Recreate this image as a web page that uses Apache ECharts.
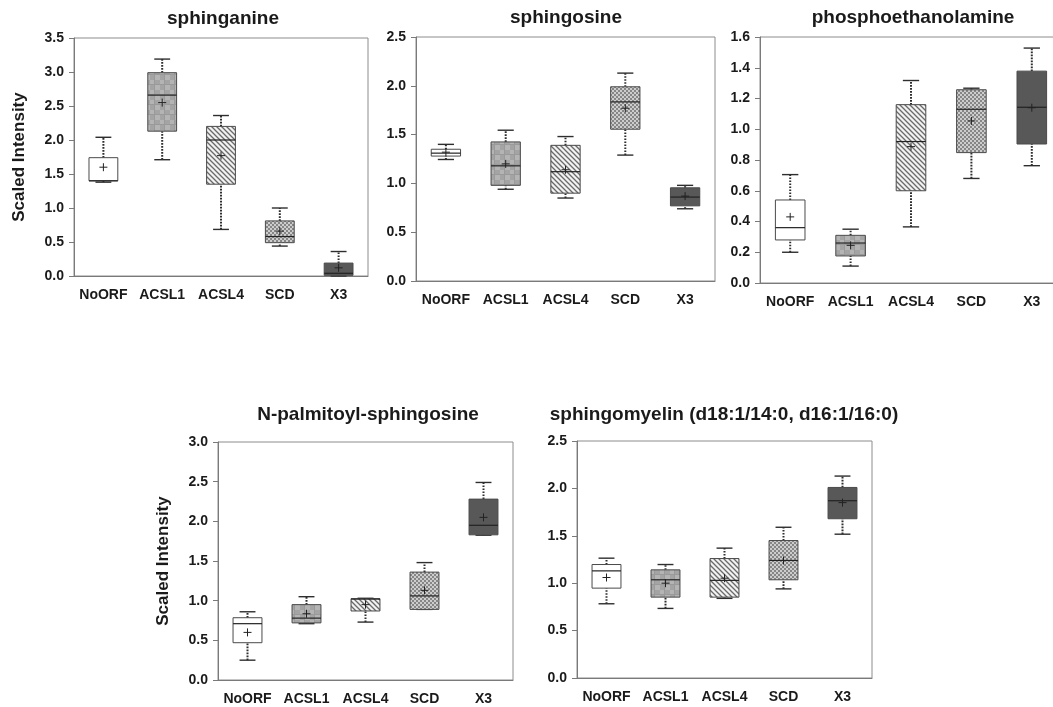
<!DOCTYPE html>
<html>
<head>
<meta charset="utf-8">
<script src="https://cdn.jsdelivr.net/npm/echarts@6/dist/echarts.min.js"></script>
<style>
html,body{margin:0;padding:0;background:#fff;overflow:hidden;width:1053px;height:707px;}
#chart{width:1070px;height:707px;}
</style>
</head>
<body>
<div id="chart"></div>
<script>
// ---- data ----
const categories = ['NoORF', 'ACSL1', 'ACSL4', 'SCD', 'X3'];
// each entry: [min, Q1, median, Q3, max]
const sphinganineBox = [[1.38, 1.40, 1.40, 1.74, 2.04], [1.71, 2.13, 2.66, 2.99, 3.19], [0.685, 1.35, 2.00, 2.20, 2.36], [0.44, 0.49, 0.58, 0.81, 1.00], [0.00, 0.01, 0.04, 0.19, 0.36]];
const sphinganineMean = [1.60, 2.55, 1.77, 0.66, 0.12];
const sphingosineBox = [[1.245, 1.28, 1.31, 1.35, 1.40], [0.94, 0.98, 1.18, 1.425, 1.545], [0.85, 0.90, 1.12, 1.39, 1.48], [1.29, 1.555, 1.835, 1.99, 2.13], [0.74, 0.77, 0.86, 0.955, 0.98]];
const sphingosineMean = [1.32, 1.20, 1.14, 1.77, 0.87];
const phosphoBox = [[0.20, 0.28, 0.36, 0.54, 0.705], [0.11, 0.176, 0.26, 0.31, 0.35], [0.365, 0.60, 0.92, 1.16, 1.317], [0.68, 0.848, 1.13, 1.257, 1.267], [0.763, 0.904, 1.143, 1.378, 1.528]];
const phosphoMean = [0.43, 0.245, 0.887, 1.054, 1.14];
const palmitoylBox = [[0.25, 0.47, 0.71, 0.785, 0.86], [0.71, 0.72, 0.78, 0.95, 1.05], [0.73, 0.87, 1.02, 1.025, 1.03], [0.89, 0.89, 1.06, 1.36, 1.48], [1.825, 1.83, 1.95, 2.28, 2.49]];
const palmitoylMean = [0.60, 0.835, 0.95, 1.13, 2.05];
const sphingomyelinBox = [[0.783, 0.948, 1.13, 1.197, 1.264], [0.734, 0.853, 1.036, 1.141, 1.197], [0.84, 0.853, 1.03, 1.26, 1.37], [0.94, 1.036, 1.24, 1.45, 1.59], [1.517, 1.68, 1.87, 2.01, 2.13]];
const sphingomyelinMean = [1.06, 1.00, 1.053, 1.24, 1.85];
const titles = ['sphinganine', 'sphingosine', 'phosphoethanolamine', 'N-palmitoyl-sphingosine', 'sphingomyelin (d18:1/14:0, d16:1/16:0)'];
const yMax = [3.5, 2.5, 1.6, 3.0, 2.5];
const yInterval = [0.5, 0.5, 0.2, 0.5, 0.5];
const yTitle = 'Scaled Intensity';

// ---- fill patterns ----
function makePattern(draw, w, h) {
  const c = document.createElement('canvas');
  c.width = w; c.height = h;
  draw(c.getContext('2d'), w, h);
  return { image: c, repeat: 'repeat' };
}
const fills = [
  '#ffffff',
  makePattern(function (g, w, h) {
    g.fillStyle = '#a4a4a4'; g.fillRect(0, 0, w, h);
    g.fillStyle = '#b4b4b4'; g.fillRect(0, 0, 5, 5); g.fillRect(5, 5, 5, 5);
    g.fillStyle = '#9a9a9a'; g.fillRect(0, 4, w, 1); g.fillRect(4, 0, 1, h);
  }, 10, 10),
  makePattern(function (g, w, h) {
    g.fillStyle = '#f2f2f2'; g.fillRect(0, 0, w, h);
    g.strokeStyle = '#6a6a6a'; g.lineWidth = 1.3;
    g.beginPath(); g.moveTo(-1, -1); g.lineTo(w + 1, h + 1);
    g.moveTo(-1, h - 1); g.lineTo(1, h + 1);
    g.moveTo(w - 1, -1); g.lineTo(w + 1, 1);
    g.stroke();
  }, 5, 5),
  makePattern(function (g, w, h) {
    g.fillStyle = '#cdcdcd'; g.fillRect(0, 0, w, h);
    g.fillStyle = '#868686'; g.fillRect(0, 0, 2, 2); g.fillRect(2, 2, 2, 2);
  }, 4, 4),
  '#585858'
];

const boxData = [sphinganineBox, sphingosineBox, phosphoBox, palmitoylBox, sphingomyelinBox];
const meanData = [sphinganineMean, sphingosineMean, phosphoMean, palmitoylMean, sphingomyelinMean];

const grids = [
  { left: 74, top: 38, width: 294, height: 238 },
  { left: 416, top: 37, width: 299, height: 244 },
  { left: 760, top: 37, width: 302, height: 246 },
  { left: 218, top: 442, width: 295, height: 238 },
  { left: 577, top: 441, width: 295, height: 237 }
];
const titlePos = [[223, 19], [566, 18], [913, 18], [368, 415], [724, 415]];
const showYName = [true, false, false, true, false];

const FONT = "'Liberation Sans', Arial, sans-serif";
const dark = '#2e2e2e';

function renderBox(params, api) {
  const i = api.value(0);
  const mn = api.value(1), q1 = api.value(2), md = api.value(3), q3 = api.value(4), mx = api.value(5), mean = api.value(6);
  const band = api.size([1, 0])[0];
  const bw = band * 0.49, cw = band * 0.27;
  const pMin = api.coord([i, mn]), pQ1 = api.coord([i, q1]), pMd = api.coord([i, md]);
  const pQ3 = api.coord([i, q3]), pMx = api.coord([i, mx]), pMean = api.coord([i, mean]);
  const cx = pMd[0];
  const dotted = { stroke: dark, lineWidth: 2, lineDash: [1.6, 1.4] };
  const solid = { stroke: dark, lineWidth: 1.4 };
  return {
    type: 'group',
    children: [
      { type: 'line', shape: { x1: cx, y1: pQ3[1], x2: cx, y2: pMx[1] }, style: dotted },
      { type: 'line', shape: { x1: cx, y1: pMin[1], x2: cx, y2: pQ1[1] }, style: dotted },
      { type: 'line', shape: { x1: cx - cw / 2, y1: pMx[1], x2: cx + cw / 2, y2: pMx[1] }, style: solid },
      { type: 'line', shape: { x1: cx - cw / 2, y1: pMin[1], x2: cx + cw / 2, y2: pMin[1] }, style: solid },
      { type: 'rect', shape: { x: cx - bw / 2, y: pQ3[1], width: bw, height: pQ1[1] - pQ3[1] },
        style: { fill: fills[i], stroke: '#4a4a4a', lineWidth: 1 } },
      { type: 'line', shape: { x1: cx - bw / 2, y1: pMd[1], x2: cx + bw / 2, y2: pMd[1] }, style: { stroke: '#222', lineWidth: 1.2 } },
      { type: 'line', shape: { x1: cx - 4, y1: pMean[1], x2: cx + 4, y2: pMean[1] }, style: { stroke: '#222', lineWidth: 1 } },
      { type: 'line', shape: { x1: cx, y1: pMean[1] - 4, x2: cx, y2: pMean[1] + 4 }, style: { stroke: '#222', lineWidth: 1 } }
    ]
  };
}

const option = {
  animation: false,
  backgroundColor: '#ffffff',
  grid: grids.map(function (g) { return Object.assign({ show: true, borderColor: '#8c8c8c', borderWidth: 1, backgroundColor: 'transparent' }, g); }),
  xAxis: grids.map(function (g, k) {
    return {
      type: 'category', gridIndex: k, data: categories, boundaryGap: true,
      axisLine: { lineStyle: { color: '#7a7a7a', width: 1 } },
      axisTick: { alignWithLabel: true, length: 5, lineStyle: { color: '#7a7a7a' } },
      axisLabel: { color: '#1a1a1a', fontWeight: 'bold', fontSize: 14, fontFamily: FONT, margin: 12, interval: 0 }
    };
  }),
  yAxis: grids.map(function (g, k) {
    return {
      type: 'value', gridIndex: k, min: 0, max: yMax[k], interval: yInterval[k],
      name: showYName[k] ? yTitle : '', nameLocation: 'middle', nameGap: 46, nameRotate: 90,
      nameTextStyle: { color: '#1a1a1a', fontWeight: 'bold', fontSize: 17, fontFamily: FONT },
      axisLine: { show: true, lineStyle: { color: '#7a7a7a', width: 1 } },
      axisTick: { show: true, length: 5, lineStyle: { color: '#7a7a7a' } },
      splitLine: { show: false },
      axisLabel: { color: '#1a1a1a', fontWeight: 'bold', fontSize: 14, fontFamily: FONT, margin: 10,
        formatter: function (v) { return v.toFixed(1); } }
    };
  }),
  graphic: titles.map(function (t, k) {
    return { type: 'text', x: titlePos[k][0], y: titlePos[k][1],
      style: { text: t, fill: '#1a1a1a', font: 'bold 19px ' + FONT, textAlign: 'center', textVerticalAlign: 'middle' } };
  }),
  series: boxData.map(function (bd, k) {
    return {
      type: 'custom', xAxisIndex: k, yAxisIndex: k,
      renderItem: renderBox,
      encode: { x: 0, y: [1, 2, 3, 4, 5, 6] },
      data: bd.map(function (b, i) { return [i, b[0], b[1], b[2], b[3], b[4], meanData[k][i]]; }),
      clip: false
    };
  })
};

const chart = echarts.init(document.getElementById('chart'), null, { renderer: 'canvas' });
chart.setOption(option);
</script>
</body>
</html>
